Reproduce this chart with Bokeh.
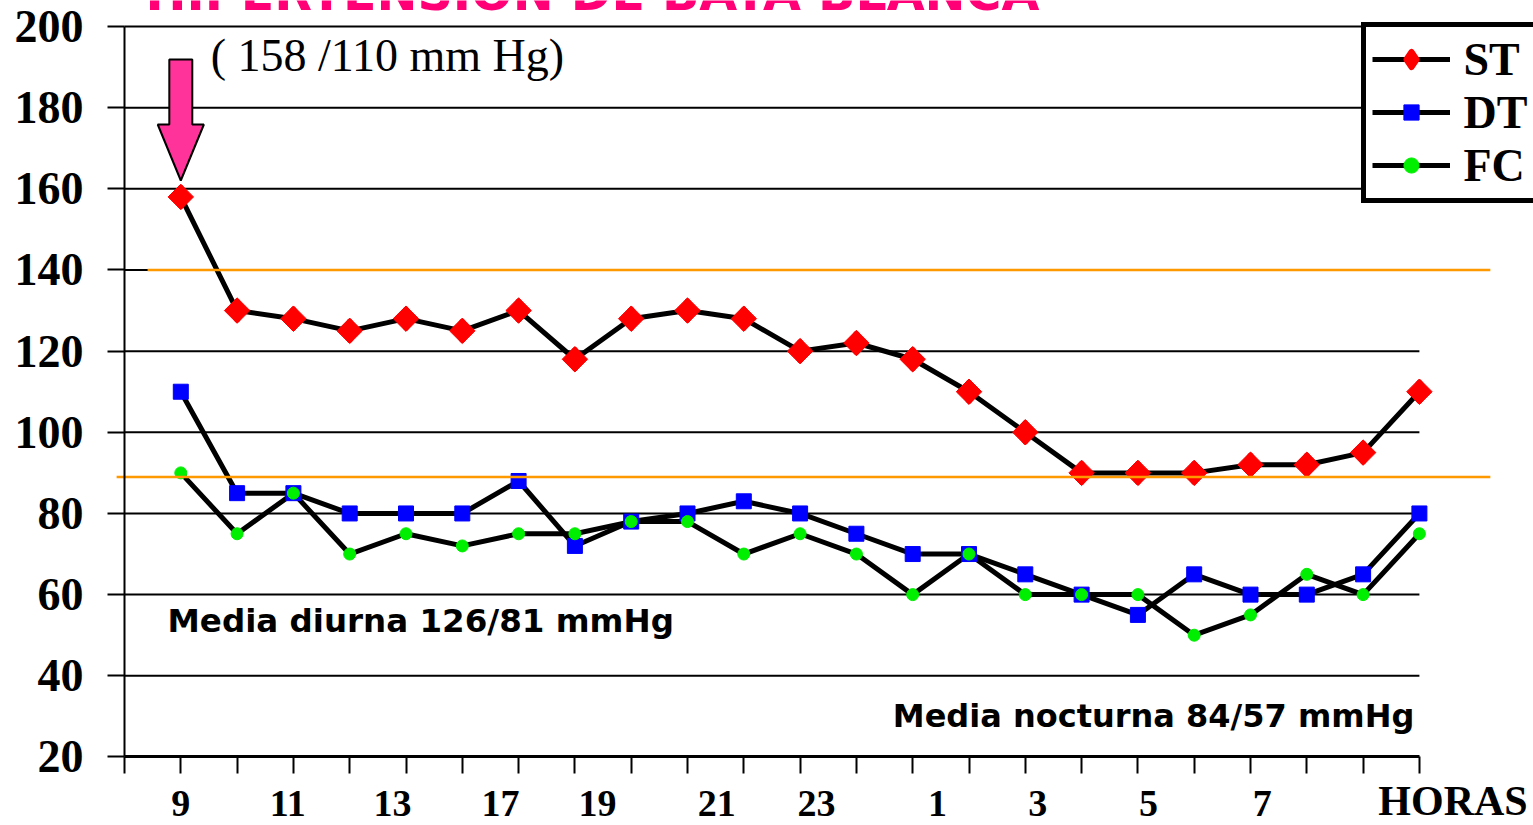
import math
from bokeh.plotting import figure
from bokeh.models import LinearAxis, FixedTicker, Range1d, Legend, LegendItem, Label
from bokeh.embed import file_html
from bokeh.resources import INLINE

# ---- data ----
slots = list(range(1, 24))
st = [158, 130, 128, 125, 128, 125, 130, 118, 128, 130, 128, 120,
      122, 118, 110, 100, 90, 90, 90, 92, 92, 95, 110]
dt = [110, 85, 85, 80, 80, 80, 88, 72, 78, 80, 83, 80,
      75, 70, 70, 65, 60, 55, 65, 60, 60, 65, 80]
fc = [90, 75, 85, 70, 75, 72, 75, 75, 78, 78, 70, 75,
      70, 60, 70, 60, 60, 60, 50, 55, 65, 60, 75]
hour_labels = ["9", "11", "13", "17", "19", "21", "23", "1", "3", "5", "7"]
hour_label_pos = [1.0, 2.9, 4.76, 6.68, 8.4, 10.52, 12.29, 14.44, 16.22, 18.19, 20.21]
y_ticks = list(range(20, 201, 20))
ref_levels = [140, 89]
ref_starts = [0.41, -0.14]
ref_end = 24.26

SERIF = "Liberation Serif"
SANS = "DejaVu Sans"

p = figure(width=1533, height=825,
           x_range=Range1d(-2.2025, 25.0266), y_range=Range1d(3.105, 206.407),
           x_axis_type=None, y_axis_type=None,
           output_backend="svg", toolbar_location=None, min_border=0)
p.outline_line_color = None
p.background_fill_color = "white"
p.border_fill_color = "white"

# gridlines (from 40 to 200), bounded to the category area
grid_y = y_ticks[1:]
p.segment(x0=[0] * len(grid_y), x1=[len(slots)] * len(grid_y), y0=grid_y, y1=grid_y,
          line_color="black", line_width=2)

# arrow pointing at first systolic reading
ax0 = slots[0]
tip = st[0] + 4.05
arrow_x = [ax0, ax0 - 0.41, ax0 - 0.204, ax0 - 0.204, ax0 + 0.204, ax0 + 0.204, ax0 + 0.41]
arrow_y = [tip, tip + 13.8, tip + 13.8, tip + 29.8, tip + 29.8, tip + 13.8, tip + 13.8]
p.patch(arrow_x, arrow_y, fill_color="#FF3399", line_color="black", line_width=2)

# series
dt_line = p.line(slots, dt, line_color="black", line_width=5, line_join="round")
fc_line = p.line(slots, fc, line_color="black", line_width=5, line_join="round")
st_line = p.line(slots, st, line_color="black", line_width=5, line_join="round")
dt_sc = p.scatter(slots, dt, marker="square", size=15, fill_color="#0000FF", line_color="#0000FF")
fc_sc = p.scatter(slots, fc, marker="circle", size=12, fill_color="#00EE00", line_color="#00EE00")
# diamond used for the legend key (fully covered by the rotated squares in the plot)
st_key = p.scatter(slots, st, marker="diamond", size=18, fill_color="#FF0000",
                   line_color="#FF0000", line_width=6, line_join="round")
st_sc = p.scatter(slots, st, marker="square", angle=math.pi / 4, size=18,
                  fill_color="#FF0000", line_color="#FF0000")

# orange reference lines
p.segment(x0=ref_starts, x1=[ref_end] * len(ref_levels), y0=ref_levels, y1=ref_levels,
          line_color="#FF9900", line_width=2.5)

# axes
yaxis = LinearAxis(fixed_location=0, bounds=(20, 200), ticker=FixedTicker(ticks=y_ticks))
yaxis.axis_line_width = 2
yaxis.major_tick_out = 17
yaxis.major_tick_in = 0
yaxis.major_tick_line_width = 2
yaxis.minor_tick_line_color = None
yaxis.major_label_text_font = SERIF
yaxis.major_label_text_font_style = "bold"
yaxis.major_label_text_font_size = "46px"
yaxis.major_label_text_color = "black"
yaxis.major_label_standoff = 24
p.add_layout(yaxis, "left")

xaxis = LinearAxis(fixed_location=20, bounds=(0, len(slots)),
                   ticker=FixedTicker(ticks=hour_label_pos, minor_ticks=list(range(0, len(slots) + 1))))
xaxis.major_label_overrides = dict(zip(hour_label_pos, hour_labels))
xaxis.axis_line_width = 3
xaxis.major_tick_line_color = None
xaxis.major_tick_out = 17
xaxis.major_tick_in = 0
xaxis.minor_tick_out = 17
xaxis.minor_tick_in = 0
xaxis.minor_tick_line_width = 2
xaxis.minor_tick_line_color = "black"
xaxis.major_label_text_font = SERIF
xaxis.major_label_text_font_style = "bold"
xaxis.major_label_text_font_size = "38px"
xaxis.major_label_text_color = "black"
xaxis.major_label_standoff = 17
p.add_layout(xaxis, "below")

# legend
legend = Legend(items=[LegendItem(label="ST", renderers=[st_line, st_key]),
                       LegendItem(label="DT", renderers=[dt_line, dt_sc]),
                       LegendItem(label="FC", renderers=[fc_line, fc_sc])],
                location=(1360.5, 622.5))
legend.border_line_width = 5
legend.border_line_color = "black"
legend.border_line_alpha = 1
legend.background_fill_color = "white"
legend.background_fill_alpha = 1
legend.padding = 6
legend.spacing = 0
legend.margin = 0
legend.glyph_width = 78
legend.glyph_height = 38
legend.label_standoff = 14
legend.label_text_font = SERIF
legend.label_text_font_style = "bold"
legend.label_text_font_size = "46px"
legend.label_text_color = "black"
p.add_layout(legend)

# texts
p.add_layout(Label(x=0.373, y=201.16, text="HIPERTENSION DE BATA BLANCA", text_font=SANS,
                   text_font_style="bold", text_font_size="49px", text_color="#FF0077",
                   text_baseline="bottom"))
p.add_layout(Label(x=1.53, y=192.85, text="( 158 /110 mm Hg)", text_font=SERIF,
                   text_font_size="46px", text_color="black", text_baseline="middle"))
p.add_layout(Label(x=0.764, y=53.6, text="Media diurna 126/81 mmHg", text_font=SANS,
                   text_font_style="bold", text_font_size="32.5px", text_color="black",
                   text_baseline="middle"))
p.add_layout(Label(x=22.91, y=30.0, text="Media nocturna 84/57 mmHg", text_font=SANS,
                   text_font_style="bold", text_font_size="32px", text_color="black",
                   text_baseline="middle", text_align="right"))
p.add_layout(Label(x=22.27, y=9.02, text="HORAS", text_font=SERIF, text_font_style="bold",
                   text_font_size="42px", text_color="black", text_baseline="middle"))

open("out.html", "w").write(file_html(p, INLINE))
